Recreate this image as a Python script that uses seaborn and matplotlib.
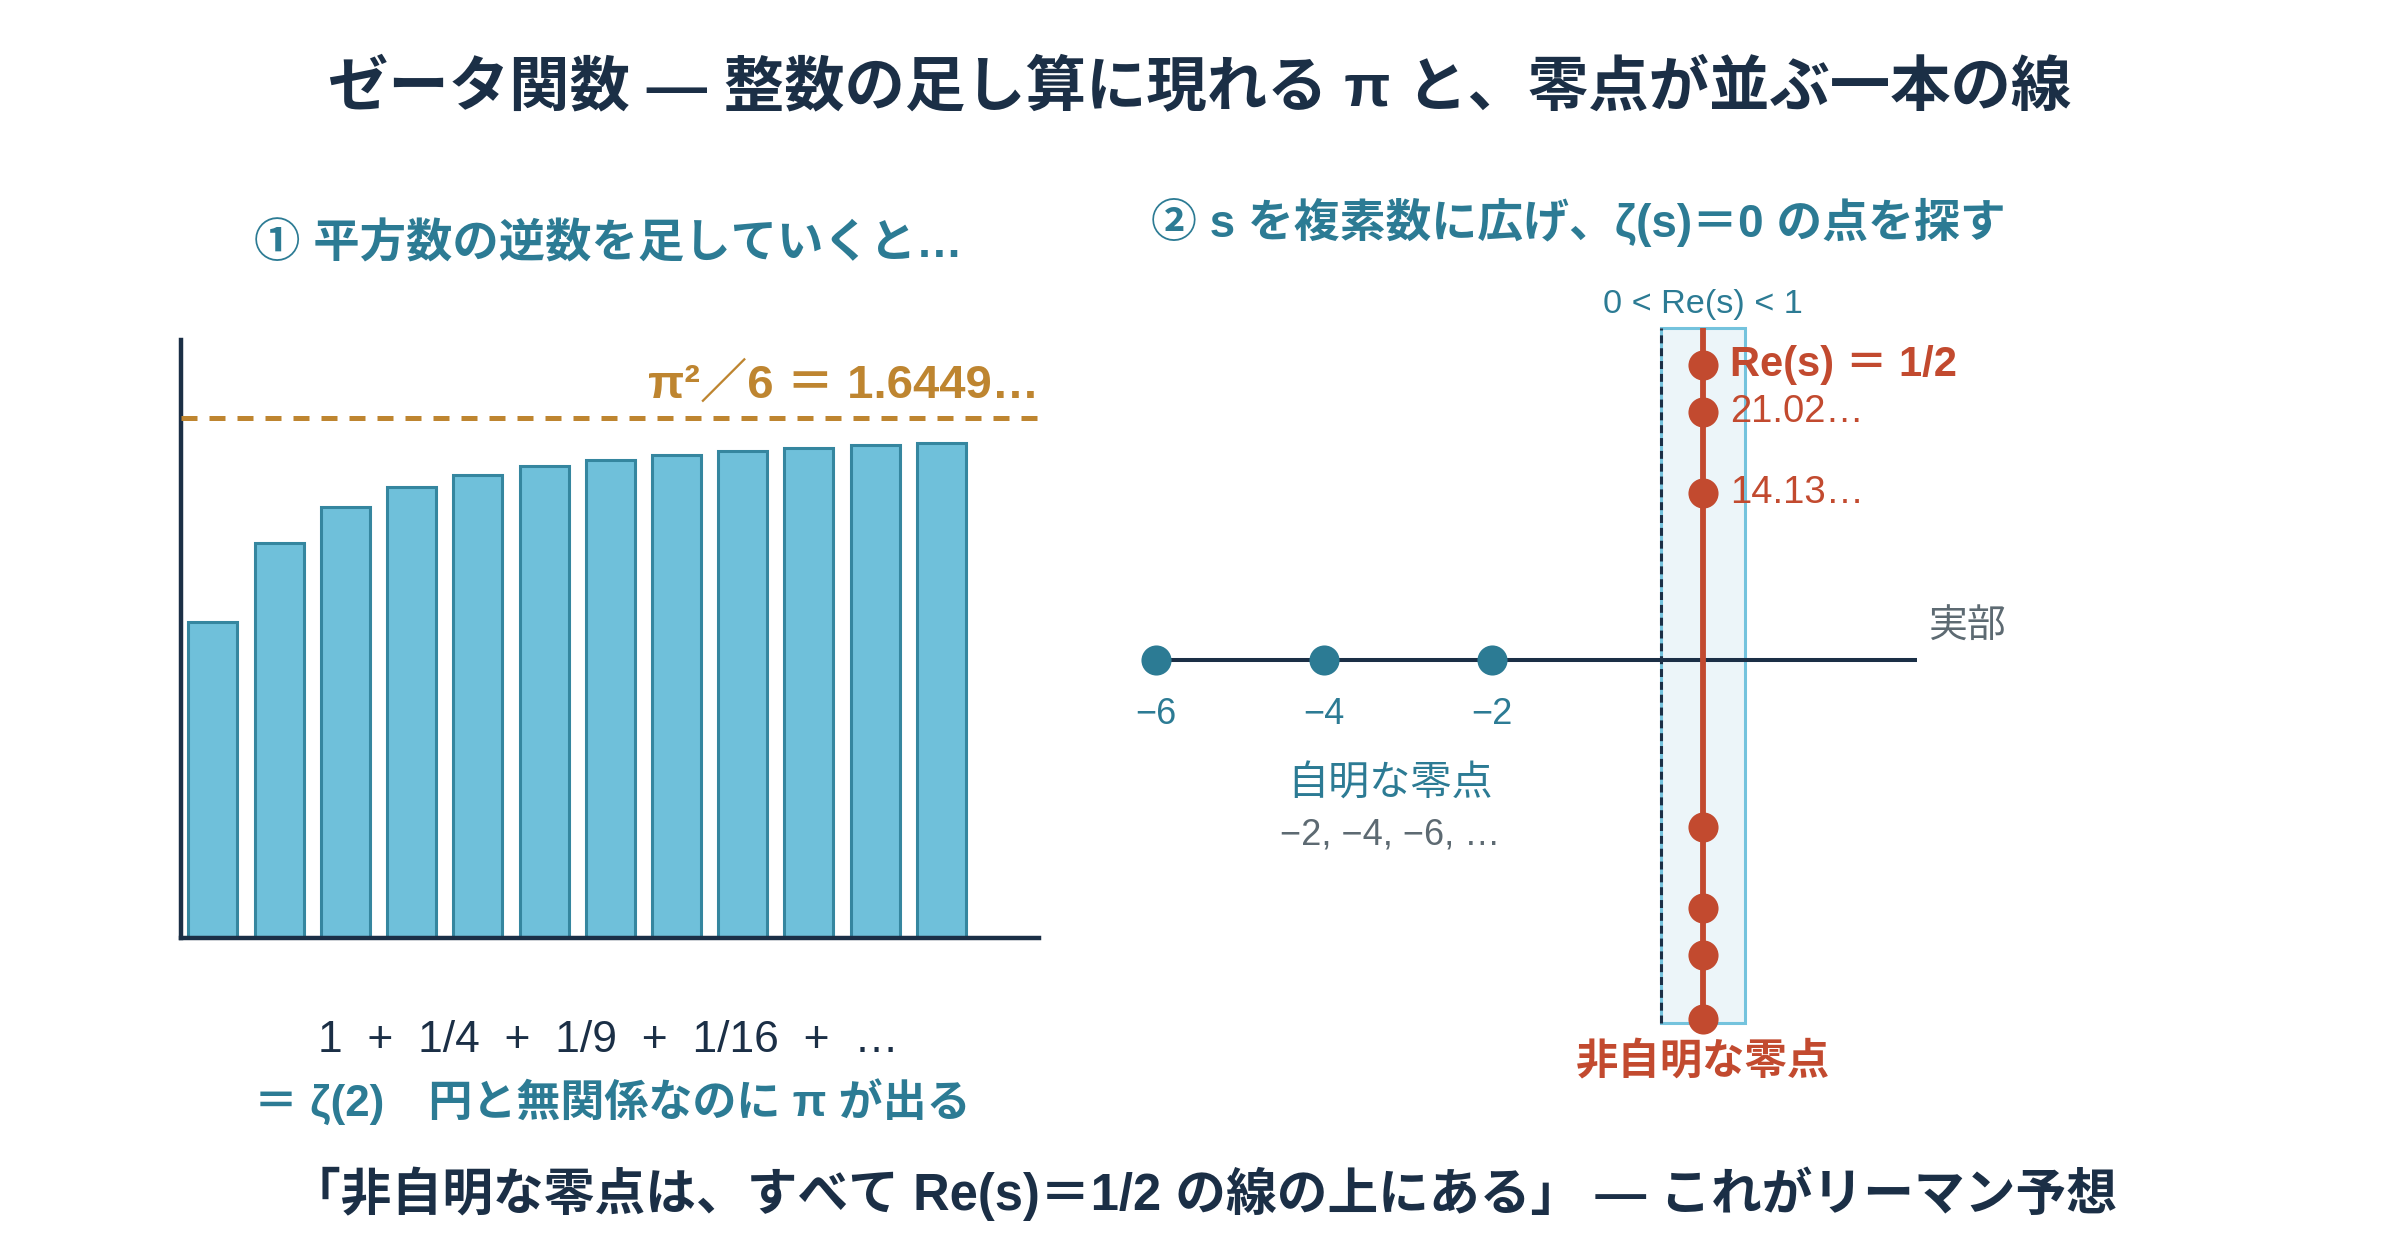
import matplotlib
matplotlib.use('Agg')
import matplotlib.pyplot as plt
from matplotlib.patches import Rectangle
import seaborn as sns

# --- data ---
terms = ['1', '2', '3', '4', '5', '6', '7', '8', '9', '10', '11', '12']
partial_sums = [1.000, 1.250, 1.361, 1.424, 1.464, 1.491, 1.512, 1.527, 1.540, 1.550, 1.558, 1.565]
limit_value = 1.6449
limit_label = 'π²／6 ＝ 1.6449…'

trivial_zeros = [-6, -4, -2]
trivial_labels = ['−6', '−4', '−2']
critical_re = 0.5
zero_heights = [25.01, 21.02, 14.13, -14.13, -21.02, -25.01, -30.42]
zero_labels = ['21.02…', '14.13…']
strip_re = [0, 1]
strip_im = [-30.74, 28.15]
real_axis_end = 3.05

# colours
NAVY = '#1b2f46'
TEAL = '#2c7b94'
BAR = '#6fc0da'
BAR_EDGE = '#35869f'
GOLD = '#be8530'
RED = '#c24a2f'
GRAY = '#5d6a72'
STRIP = '#ecf5f9'
STRIP_EDGE = '#74c3dd'

sns.set_style('white')
plt.rcParams['font.family'] = ['Liberation Sans', 'Noto Sans CJK JP']

fig = plt.figure(figsize=(24, 12.4), dpi=100)
fig.patch.set_facecolor('white')

# 1. left panel: partial sums of 1/n^2
ax1 = fig.add_axes([0.0753, 0.2432, 0.3578, 0.4827])
sns.barplot(x=terms, y=partial_sums, ax=ax1, color=BAR, edgecolor=BAR_EDGE,
            linewidth=2.2, width=0.74, saturation=1, errorbar=None)
ax1.axhline(limit_value, color=GOLD, lw=3.6, dashes=(3.2, 2.4), zorder=3)
ax1.text(1.0, limit_value + 0.10, limit_label, transform=ax1.get_yaxis_transform(),
         ha='right', va='center', color=GOLD, fontsize=34, fontweight='bold')
ax1.set_xlim(-0.485, 12.48)
ax1.set_ylim(0, 1.89)
ax1.set_xticks([])
ax1.set_yticks([])
ax1.set_xlabel('')
ax1.set_ylabel('')
for side in ['top', 'right']:
    ax1.spines[side].set_visible(False)
for side in ['left', 'bottom']:
    ax1.spines[side].set_color(NAVY)
    ax1.spines[side].set_linewidth(3.2)

# 2. right panel: complex plane with zeros
ax2 = fig.add_axes([0.4605, 0.1157, 0.3893, 0.6663])
ax2.set_xlim(-6.6, 4.5)
ax2.set_ylim(-37, 33)
ax2.axis('off')

ax2.add_patch(Rectangle((strip_re[0], strip_im[0]), strip_re[1] - strip_re[0],
                        strip_im[1] - strip_im[0], facecolor=STRIP,
                        edgecolor=STRIP_EDGE, lw=2.2, zorder=1))
ax2.hlines(0, min(trivial_zeros), real_axis_end, color=NAVY, lw=2.9, zorder=2)
ax2.vlines(strip_re[0], strip_im[0], strip_im[1], color=NAVY, lw=2.2,
           linestyles=(0, (2.6, 1.6)), zorder=3)
ax2.vlines(critical_re, min(zero_heights), strip_im[1], color=RED, lw=4.2, zorder=3)

sns.scatterplot(x=trivial_zeros, y=[0] * len(trivial_zeros), ax=ax2, color=TEAL,
                s=470, linewidth=0, zorder=4)
sns.scatterplot(x=[critical_re] * len(zero_heights), y=zero_heights, ax=ax2,
                color=RED, s=470, linewidth=0, zorder=4)

for z, lab in zip(trivial_zeros, trivial_labels):
    ax2.text(z, -4.6, lab, ha='center', va='center', color=TEAL, fontsize=26)

ax2.text(0.5, 30.1, '0 < Re(s) < 1', ha='center', va='center', color=TEAL, fontsize=24.7)
ax2.text(0.82, zero_heights[0], 'Re(s) ＝ 1/2', ha='left', va='center', color=RED,
         fontsize=30, fontweight='bold')
for h, lab in zip(zero_heights[1:3], zero_labels):
    ax2.text(0.82, h, lab, ha='left', va='center', color=RED, fontsize=27.5)
ax2.text(3.18, 2.7, '実部', ha='left', va='center', color=GRAY, fontsize=28)
ax2.text(-3.22, -10.6, '自明な零点', ha='center', va='center', color=TEAL, fontsize=29.6)
ax2.text(-3.22, -14.8, '−2, −4, −6, …', ha='center', va='center', color=GRAY, fontsize=26)
ax2.text(critical_re, -34.1, '非自明な零点', ha='center', va='center', color=RED,
         fontsize=30.5, fontweight='bold')

# 3. titles and captions
def ftext(x, y, s, **kw):
    fig.text(x / 2400, 1 - y / 1240, s, ha='center', va='center', **kw)

ftext(1200, 88, 'ゼータ関数 — 整数の足し算に現れる π と、零点が並ぶ一本の線',
      color=NAVY, fontsize=43.5, fontweight='bold')
ftext(608, 245, '① 平方数の逆数を足していくと…', color=TEAL, fontsize=33.4, fontweight='bold')
ftext(1578, 222, '② s を複素数に広げ、ζ(s)＝0 の点を探す', color=TEAL, fontsize=33,
      fontweight='bold')
ftext(608, 1041, '1  +  1/4  +  1/9  +  1/16  +  …', color=NAVY, fontsize=32)
ftext(612, 1103, '＝ ζ(2)　円と無関係なのに π が出る', color=TEAL, fontsize=31.7,
      fontweight='bold')
ftext(1203, 1194, '「非自明な零点は、すべて Re(s)＝1/2 の線の上にある」 — これがリーマン予想',
      color=NAVY, fontsize=36.5, fontweight='bold')

fig.savefig('out.png', dpi=100, facecolor='white')
